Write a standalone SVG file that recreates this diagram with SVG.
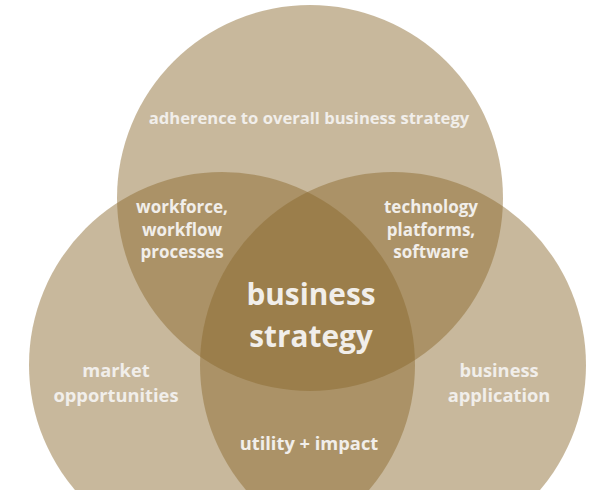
<svg xmlns="http://www.w3.org/2000/svg" width="615" height="490" viewBox="0 0 615 490">
<style>
.c{fill:#8B692C;fill-opacity:0.47}
.t{font-family:"Open Sans","Liberation Sans",sans-serif;font-weight:700;fill:#F1EEEA;text-anchor:middle;font-size:16.6px}
.m{font-size:17px}
.l{font-size:18.3px}
.big{font-size:29.8px}
</style>
<rect width="615" height="490" fill="#ffffff"/>
<g id="circle-top"><circle class="c" cx="310" cy="198" r="193"/></g>
<g id="circle-left"><circle class="c" cx="222" cy="365" r="193"/></g>
<g id="circle-right"><circle class="c" cx="393" cy="365" r="193"/></g>
<g id="connectors"></g>
<g id="label-top"><text class="t" x="309" y="124">adherence to overall business strategy</text></g>
<g id="label-top-left"><text class="t m" x="182" y="213">workforce,</text><text class="t m" x="182" y="236">workflow</text><text class="t m" x="182" y="258">processes</text></g>
<g id="label-top-right"><text class="t m" x="431" y="213">technology</text><text class="t m" x="431" y="236">platforms,</text><text class="t m" x="431" y="258">software</text></g>
<g id="label-center"><text class="t big" x="311" y="305">business</text><text class="t big" x="311" y="347">strategy</text></g>
<g id="label-left"><text class="t l" x="116" y="377">market</text><text class="t l" x="116" y="402">opportunities</text></g>
<g id="label-right"><text class="t l" x="499" y="377">business</text><text class="t l" x="499" y="402">application</text></g>
<g id="label-bottom"><text class="t l" x="309" y="450">utility + impact</text></g>
</svg>
